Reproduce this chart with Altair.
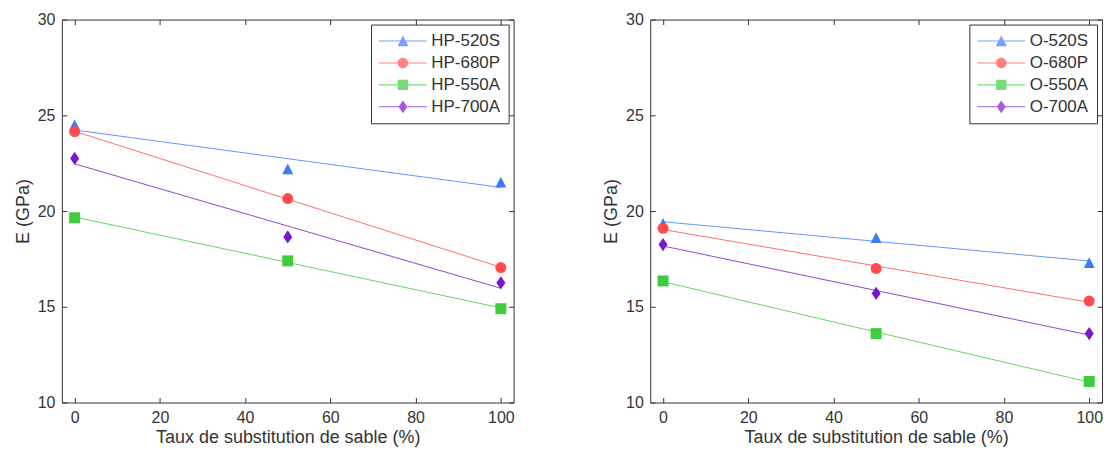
import altair as alt
import pandas as pd

# ---------------- data ----------------
taux = [0, 50, 100]
x_ticks = [0, 20, 40, 60, 80, 100]
y_ticks = [10, 15, 20, 25, 30]

series_hp = ["HP-520S", "HP-680P", "HP-550A", "HP-700A"]
hp_520s = [24.5, 22.2, 21.5]
hp_680p = [24.15, 20.65, 17.05]
hp_550a = [19.65, 17.4, 14.9]
hp_700a = [22.75, 18.65, 16.25]

series_o = ["O-520S", "O-680P", "O-550A", "O-700A"]
o_520s = [19.35, 18.6, 17.3]
o_680p = [19.1, 17.0, 15.3]
o_550a = [16.35, 13.6, 11.1]
o_700a = [18.25, 15.7, 13.6]

x_title = "Taux de substitution de sable (%)"
y_title = "E (GPa)"

# ---------------- styles ----------------
marker_colors = ["#3b7bff", "#ff4b4b", "#3fcc3f", "#7817cc"]
marker_shapes = [
    "M0,-1L1,0.95L-1,0.95Z",
    "circle",
    "square",
    "M0,-1.2L0.82,0L0,1.2L-0.82,0Z",
]
_line = "M-3,-0.065H3V0.065H-3Z"
legend_shapes = [
    _line + "M0,-0.69L0.69,0.65L-0.69,0.65Z",
    _line + "M0.66,0A0.66,0.66 0 1 1 -0.66,0A0.66,0.66 0 1 1 0.66,0Z",
    _line + "M-0.65,-0.65H0.65V0.65H-0.65Z",
    _line + "M0,-0.8L0.55,0L0,0.8L-0.55,0Z",
]
FONT = "Liberation Sans"
INK = "#333333"
PANEL_W = 453
PANEL_H = 384


def panel(names, values):
    rows = []
    for n, vals in zip(names, values):
        for xv, yv in zip(taux, vals):
            rows.append({"series": n, "x": xv, "y": yv})
    df = pd.DataFrame(rows)
    xs = alt.Scale(domain=[-3, 103], nice=False, zero=False)
    ys = alt.Scale(domain=[10, 30], nice=False, zero=False)
    base = alt.Chart(df)

    lines = base.transform_regression("x", "y", groupby=["series"]).mark_line(
        strokeWidth=1, opacity=0.8
    ).encode(
        x=alt.X("x:Q", scale=xs, axis=alt.Axis(orient="bottom", values=x_ticks, title=x_title)),
        y=alt.Y("y:Q", scale=ys, axis=alt.Axis(orient="left", values=y_ticks, title=y_title)),
        color=alt.Color("series:N", scale=alt.Scale(domain=names, range=marker_colors), legend=None),
    )

    points = base.mark_point(filled=True, size=121, opacity=1).encode(
        x=alt.X("x:Q", scale=xs, axis=alt.Axis(orient="top", values=x_ticks, labels=False, title=None)),
        y=alt.Y("y:Q", scale=ys, axis=alt.Axis(orient="right", values=y_ticks, labels=False, title=None)),
        color=alt.Color("series:N", scale=alt.Scale(domain=names, range=marker_colors), legend=None),
        shape=alt.Shape("series:N", scale=alt.Scale(domain=names, range=marker_shapes), legend=None),
    )

    leg = alt.Legend(
        title=None,
        orient="top-right",
        offset=5,
        symbolSize=256,
        symbolStrokeWidth=0,
        symbolOffset=15.5,
        labelOffset=20,
        labelFontSize=17,
        labelFont=FONT,
        labelColor=INK,
        padding=8,
        rowPadding=4,
        strokeColor=INK,
        fillColor="white",
    )
    carrier = base.transform_filter("false").mark_point(filled=True, size=256).encode(
        color=alt.Color("series:N", scale=alt.Scale(domain=names, range=marker_colors), legend=leg),
        shape=alt.Shape("series:N", scale=alt.Scale(domain=names, range=legend_shapes), legend=leg),
    )

    return (
        alt.layer(lines, points, carrier)
        .resolve_scale(color="independent", shape="independent")
        .resolve_axis(x="independent", y="independent")
        .properties(width=PANEL_W, height=PANEL_H)
    )


left = panel(series_hp, [hp_520s, hp_680p, hp_550a, hp_700a])
right = panel(series_o, [o_520s, o_680p, o_550a, o_700a])

chart = (
    alt.hconcat(left, right, spacing=86)
    .properties(padding={"left": 5, "top": 2, "right": 0, "bottom": 0})
    .configure_view(stroke=INK, strokeWidth=1)
    .configure_axis(
        grid=False,
        domain=False,
        offset=-5,
        tickSize=5,
        tickColor=INK,
        tickWidth=1,
        labelFont=FONT,
        labelFontSize=16,
        labelColor=INK,
        titleFont=FONT,
        titleFontSize=18,
        titleFontWeight="normal",
        titleColor=INK,
    )
    .configure_axisLeft(labelPadding=7, titlePadding=5)
    .configure_axisBottom(labelPadding=7, titlePadding=3)
)

chart.save("out.html", embed_options={"renderer": "svg", "actions": False})
